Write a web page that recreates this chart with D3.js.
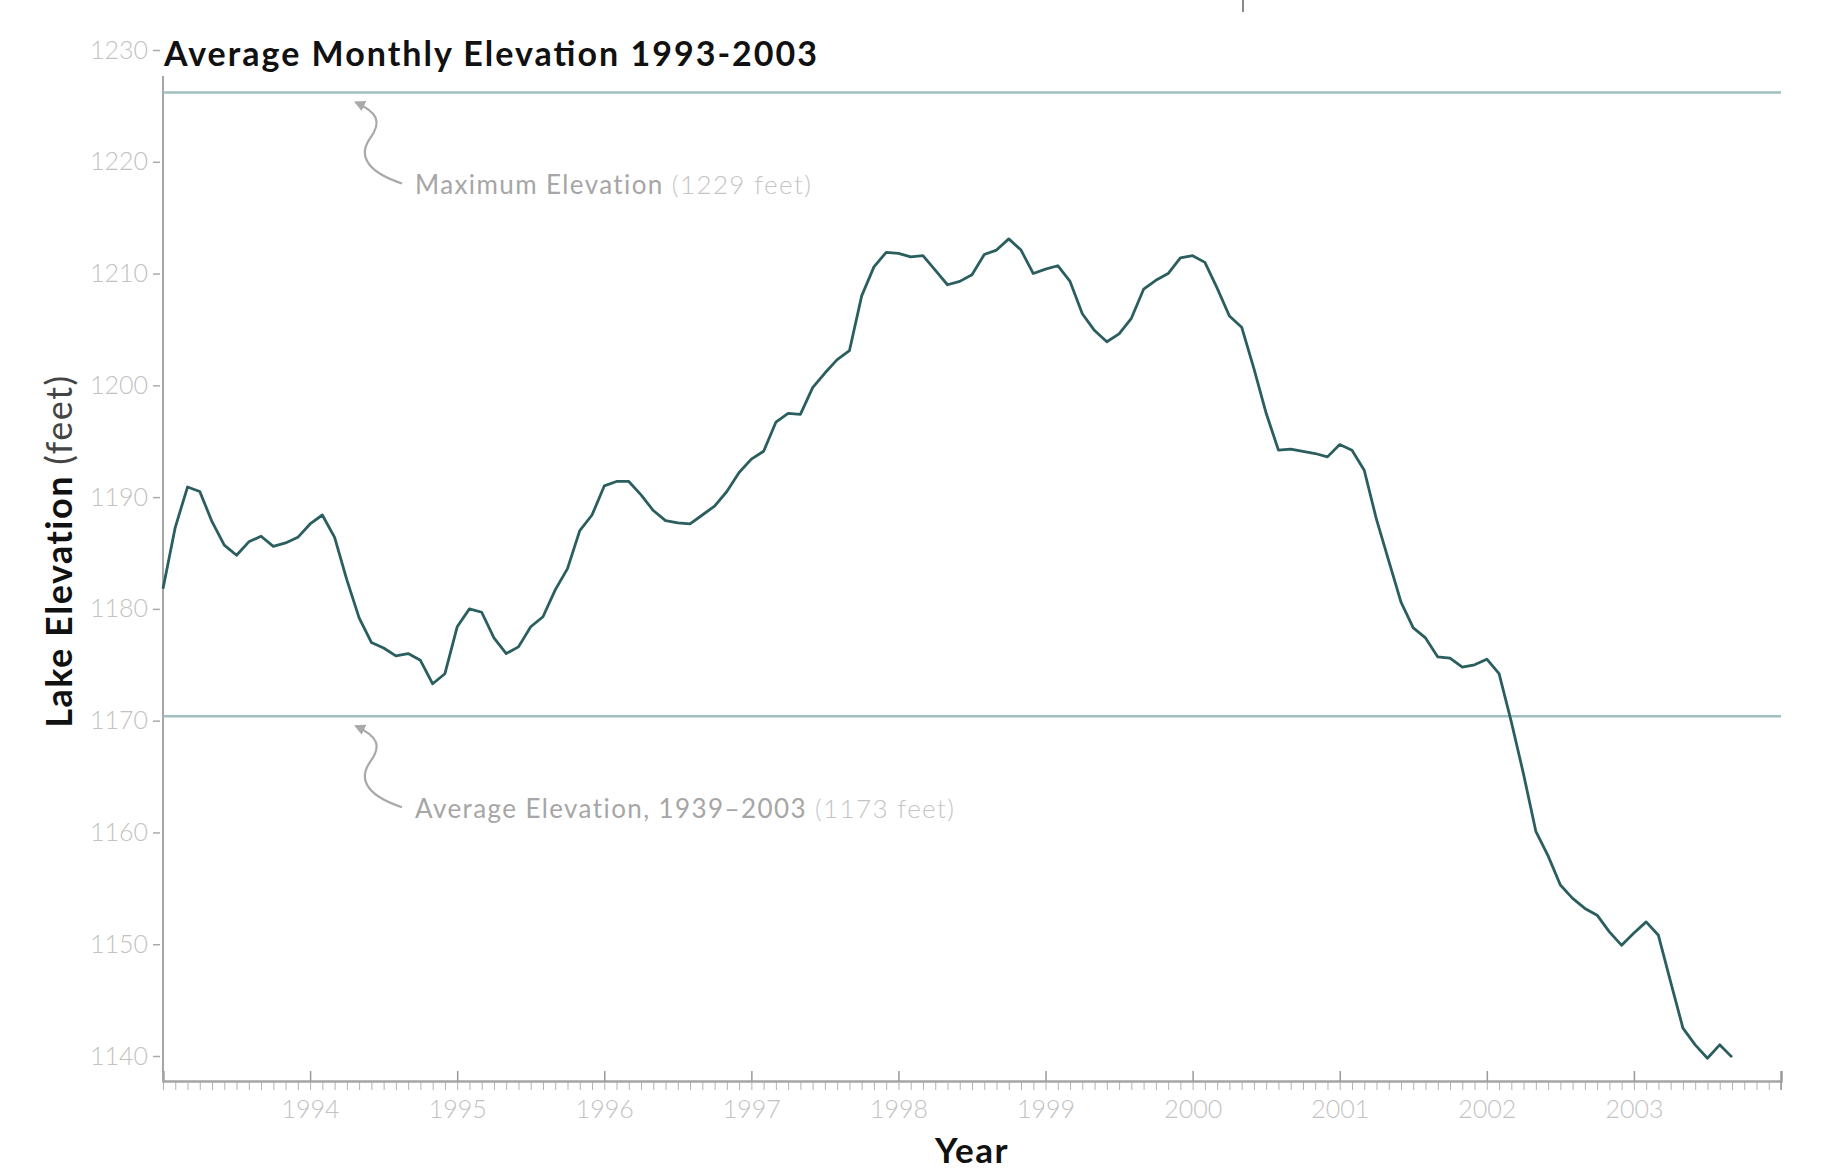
<!DOCTYPE html>
<html lang="en">
<head>
    <meta charset="UTF-8">
    <title>Average Monthly Elevation 1993-2003</title>
    <script src="https://cdn.jsdelivr.net/npm/d3@7"></script>
    <style>
        body { margin: 0; background: #fff; }
        svg { display: block; font-family: Lato, "Open Sans", sans-serif; }
    </style>
</head>
<body>
<div id="chart"></div>
<script>
    // monthly lake elevation (feet), Jan 1993 .. Sep 2003
    var startYear = 1993;
    var elevation = [
        1181.8, 1187.3, 1190.9, 1190.5, 1187.8, 1185.7, 1184.8, 1186.0, 1186.5, 1185.6, 1185.9, 1186.4,
        1187.6, 1188.4, 1186.4, 1182.6, 1179.2, 1177.0, 1176.5, 1175.8, 1176.0, 1175.4, 1173.3, 1174.2,
        1178.4, 1180.0, 1179.7, 1177.4, 1176.0, 1176.6, 1178.4, 1179.3, 1181.7, 1183.6, 1187.0, 1188.4,
        1191.0, 1191.4, 1191.4, 1190.2, 1188.8, 1187.9, 1187.7, 1187.6, 1188.4, 1189.2, 1190.5, 1192.2,
        1193.4, 1194.1, 1196.7, 1197.5, 1197.4, 1199.8, 1201.1, 1202.3, 1203.1, 1208.0, 1210.6, 1211.9,
        1211.8, 1211.5, 1211.6, 1210.3, 1209.0, 1209.3, 1209.9, 1211.7, 1212.1, 1213.1, 1212.1, 1210.0,
        1210.4, 1210.7, 1209.3, 1206.4, 1204.9, 1203.9, 1204.6, 1206.0, 1208.6, 1209.4, 1210.0, 1211.4,
        1211.6, 1211.0, 1208.7, 1206.2, 1205.2, 1201.5, 1197.5, 1194.2, 1194.3, 1194.1, 1193.9, 1193.6,
        1194.7, 1194.2, 1192.4, 1188.0, 1184.3, 1180.6, 1178.3, 1177.4, 1175.7, 1175.6, 1174.8, 1175.0,
        1175.5, 1174.2, 1169.9, 1165.2, 1160.1, 1157.9, 1155.3, 1154.1, 1153.2, 1152.6, 1151.1, 1149.9,
        1151.0, 1152.0, 1150.8, 1146.6, 1142.5, 1141.0, 1139.8, 1141.0, 1139.9
    ];

    var yearTicks = [1994, 1995, 1996, 1997, 1998, 1999, 2000, 2001, 2002, 2003];
    var elevTicks = [1140, 1150, 1160, 1170, 1180, 1190, 1200, 1210, 1220, 1230];

    // reference lines, as drawn in the picture
    var refValues = [1226.2, 1170.4];
    var refMain = ["Maximum Elevation", "Average Elevation, 1939\u20132003"];
    var refNote = ["(1229 feet)", "(1173 feet)"];

    var width = 1822;
    var height = 1176;

    var x = d3.scaleLinear().domain([1993, 2004]).range([163, 1781]);
    var y = d3.scaleLinear().domain([1140, 1230]).range([1056, 50]);
    var axisY = 1081;

    var svg = d3.select("#chart")
        .append("svg")
        .attr("width", width)
        .attr("height", height);

    svg.append("defs").append("marker")
        .attr("id", "head")
        .attr("viewBox", "0 0 10 10")
        .attr("refX", 8)
        .attr("refY", 5)
        .attr("markerWidth", 5)
        .attr("markerHeight", 5)
        .attr("orient", "auto")
        .attr("markerUnits", "strokeWidth")
        .append("path")
        .attr("d", "M0,0 L10,5 L0,10 Z")
        .attr("fill", "#a9a9a9");

    // small mark at the top edge
    svg.append("line")
        .attr("x1", 1243).attr("x2", 1243)
        .attr("y1", 0).attr("y2", 12)
        .attr("stroke", "#8a8a8a")
        .attr("stroke-width", 2);

    // title
    svg.append("text")
        .attr("x", 164)
        .attr("y", 66)
        .attr("font-size", 34)
        .attr("font-weight", 700)
        .attr("fill", "#111")
        .attr("textLength", 653)
        .attr("lengthAdjust", "spacing")
        .text("Average Monthly Elevation 1993-2003");

    // y axis
    var yAxis = d3.axisLeft(y)
        .tickValues(elevTicks)
        .tickSize(7)
        .tickPadding(5)
        .tickFormat(d3.format("d"));
    var gy = svg.append("g")
        .attr("transform", "translate(160,0)")
        .call(yAxis);
    gy.select(".domain").remove();
    gy.selectAll(".tick line").attr("stroke", "#aaa").attr("stroke-width", 1.5);
    gy.selectAll(".tick text")
        .attr("font-family", "Lato, sans-serif")
        .attr("font-weight", 300)
        .attr("font-size", 25)
        .attr("fill", "#c2c2c2");

    svg.append("line")
        .attr("x1", 163).attr("x2", 163)
        .attr("y1", 76).attr("y2", axisY)
        .attr("stroke", "#a5a5a5")
        .attr("stroke-width", 2);

    // x axis: monthly ticks down, yearly ticks up
    var months = d3.range(0, 133).map(function(i) { return 1993 + i / 12; });
    var gm = svg.append("g")
        .attr("transform", "translate(0," + axisY + ")")
        .call(d3.axisBottom(x).tickValues(months).tickSize(9).tickFormat(""));
    gm.select(".domain").remove();
    gm.selectAll(".tick line").attr("stroke", "#b3b3b3").attr("stroke-width", 1);

    var gx = svg.append("g")
        .attr("transform", "translate(0," + axisY + ")")
        .call(d3.axisBottom(x).tickValues(yearTicks.concat([2004])).tickSize(-10).tickPadding(19)
            .tickFormat(function(d) { return d === 2004 ? "" : d; }));
    gx.select(".domain").attr("stroke", "#a5a5a5").attr("stroke-width", 2.5);
    gx.selectAll(".tick line").attr("stroke", "#999").attr("stroke-width", 1.5);
    gx.selectAll(".tick text")
        .attr("font-family", "Lato, sans-serif")
        .attr("font-weight", 300)
        .attr("font-size", 25)
        .attr("fill", "#c2c2c2");
    svg.append("line")
        .attr("x1", x(2004)).attr("x2", x(2004))
        .attr("y1", axisY).attr("y2", axisY + 9)
        .attr("stroke", "#999").attr("stroke-width", 1.5);

    // axis titles
    svg.append("text")
        .attr("x", x(1998.5))
        .attr("y", 1163)
        .attr("text-anchor", "middle")
        .attr("font-size", 35)
        .attr("font-weight", 700)
        .attr("letter-spacing", 1.5)
        .attr("fill", "#111")
        .text("Year");

    var yl = svg.append("text")
        .attr("transform", "translate(72,551) rotate(-90)")
        .attr("text-anchor", "middle")
        .attr("font-size", 36)
        .attr("letter-spacing", 1.5)
        .attr("fill", "#111");
    yl.append("tspan").attr("font-weight", 700).text("Lake Elevation ");
    yl.append("tspan").attr("font-weight", 400).attr("fill", "#444").text("(feet)");

    // reference lines
    svg.selectAll(".ref")
        .data(refValues)
        .enter()
        .append("line")
        .attr("class", "ref")
        .attr("x1", x(1993)).attr("x2", x(2004))
        .attr("y1", function(d) { return y(d); })
        .attr("y2", function(d) { return y(d); })
        .attr("stroke", "#9fbfbf")
        .attr("stroke-width", 2.5);

    // annotations with curly arrows
    var notes = svg.selectAll(".note")
        .data(refValues)
        .enter()
        .append("g")
        .attr("class", "note")
        .attr("transform", function(d) { return "translate(0," + (y(d) + 8) + ")"; });
    notes.append("path")
        .attr("d", "M402,83 C372,73 356,58 370,38 C382,22 378,12 356,2")
        .attr("fill", "none")
        .attr("stroke", "#a9a9a9")
        .attr("stroke-width", 2.2)
        .attr("marker-end", "url(#head)");
    var nt = notes.append("text")
        .attr("x", 415)
        .attr("y", 94)
        .attr("font-size", 26)
        .attr("letter-spacing", 1.4);
    nt.append("tspan")
        .attr("fill", "#a6a6a6")
        .text(function(d, i) { return refMain[i] + " "; });
    nt.append("tspan")
        .attr("fill", "#c4c4c4")
        .attr("font-weight", 300)
        .text(function(d, i) { return refNote[i]; });

    // elevation line
    var line = d3.line()
        .x(function(d, i) { return x(startYear + i / 12); })
        .y(function(d) { return y(d); });
    svg.append("path")
        .datum(elevation)
        .attr("d", line)
        .attr("fill", "none")
        .attr("stroke", "#2b5e5e")
        .attr("stroke-width", 2.8)
        .attr("stroke-linejoin", "round");
</script>
</body>
</html>
